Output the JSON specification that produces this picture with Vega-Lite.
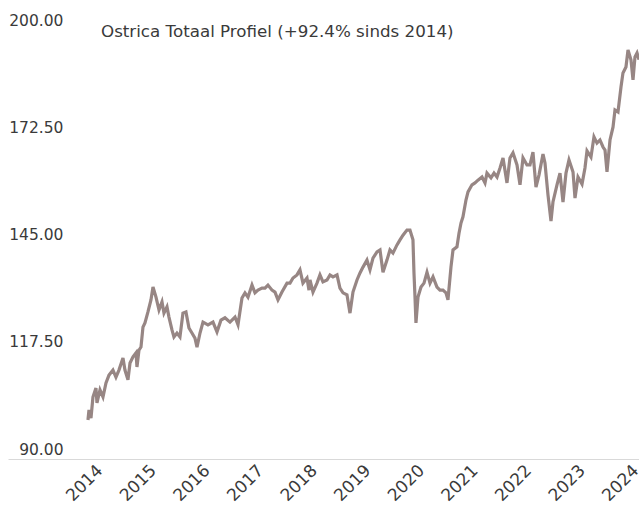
{
  "$schema": "https://vega.github.io/schema/vega-lite/v6.json",
  "autosize": {"type": "none"},
  "padding": {"left": 8, "top": 30, "right": 0, "bottom": 53},
  "width": 631,
  "height": 429,
  "background": "white",
  "title": {
    "text": "Ostrica Totaal Profiel (+92.4% sinds 2014)",
    "anchor": "start",
    "frame": "group",
    "orient": "top",
    "offset": 0,
    "dx": 93,
    "dy": 41,
    "baseline": "alphabetic",
    "font": "DejaVu Sans",
    "fontSize": 16.7,
    "fontWeight": "normal",
    "color": "#3a3a3a"
  },
  "config": {"view": {"stroke": null}},
  "data": {
    "values": [
      {"year": 2014.000, "value": 100.0},
      {"year": 2014.019, "value": 102.6},
      {"year": 2014.056, "value": 100.5},
      {"year": 2014.093, "value": 105.9},
      {"year": 2014.149, "value": 108.2},
      {"year": 2014.168, "value": 104.4},
      {"year": 2014.224, "value": 107.7},
      {"year": 2014.280, "value": 105.9},
      {"year": 2014.336, "value": 109.5},
      {"year": 2014.392, "value": 111.5},
      {"year": 2014.466, "value": 112.8},
      {"year": 2014.522, "value": 111.0},
      {"year": 2014.578, "value": 112.8},
      {"year": 2014.653, "value": 115.9},
      {"year": 2014.690, "value": 112.8},
      {"year": 2014.746, "value": 110.3},
      {"year": 2014.784, "value": 114.6},
      {"year": 2014.840, "value": 116.2},
      {"year": 2014.896, "value": 117.2},
      {"year": 2014.914, "value": 113.6},
      {"year": 2014.951, "value": 117.9},
      {"year": 2014.989, "value": 118.7},
      {"year": 2015.026, "value": 123.8},
      {"year": 2015.063, "value": 124.9},
      {"year": 2015.119, "value": 127.7},
      {"year": 2015.175, "value": 130.8},
      {"year": 2015.213, "value": 134.1},
      {"year": 2015.269, "value": 131.5},
      {"year": 2015.325, "value": 128.2},
      {"year": 2015.381, "value": 130.3},
      {"year": 2015.418, "value": 127.4},
      {"year": 2015.474, "value": 129.0},
      {"year": 2015.511, "value": 126.4},
      {"year": 2015.567, "value": 123.1},
      {"year": 2015.604, "value": 121.3},
      {"year": 2015.660, "value": 122.3},
      {"year": 2015.716, "value": 121.3},
      {"year": 2015.772, "value": 127.4},
      {"year": 2015.828, "value": 127.7},
      {"year": 2015.884, "value": 123.6},
      {"year": 2015.940, "value": 122.3},
      {"year": 2015.996, "value": 121.0},
      {"year": 2016.034, "value": 118.7},
      {"year": 2016.090, "value": 122.3},
      {"year": 2016.146, "value": 125.1},
      {"year": 2016.239, "value": 124.4},
      {"year": 2016.332, "value": 125.1},
      {"year": 2016.407, "value": 122.6},
      {"year": 2016.481, "value": 125.6},
      {"year": 2016.556, "value": 126.2},
      {"year": 2016.649, "value": 125.1},
      {"year": 2016.743, "value": 126.4},
      {"year": 2016.799, "value": 124.4},
      {"year": 2016.873, "value": 131.3},
      {"year": 2016.929, "value": 132.6},
      {"year": 2016.985, "value": 131.5},
      {"year": 2017.060, "value": 134.6},
      {"year": 2017.116, "value": 132.6},
      {"year": 2017.172, "value": 133.3},
      {"year": 2017.246, "value": 133.8},
      {"year": 2017.302, "value": 133.8},
      {"year": 2017.358, "value": 134.6},
      {"year": 2017.433, "value": 133.3},
      {"year": 2017.489, "value": 132.8},
      {"year": 2017.545, "value": 130.8},
      {"year": 2017.619, "value": 132.8},
      {"year": 2017.713, "value": 135.1},
      {"year": 2017.769, "value": 135.1},
      {"year": 2017.825, "value": 136.4},
      {"year": 2017.899, "value": 137.2},
      {"year": 2017.955, "value": 138.5},
      {"year": 2018.011, "value": 135.1},
      {"year": 2018.086, "value": 136.4},
      {"year": 2018.123, "value": 133.3},
      {"year": 2018.142, "value": 135.9},
      {"year": 2018.198, "value": 132.8},
      {"year": 2018.272, "value": 135.1},
      {"year": 2018.328, "value": 137.2},
      {"year": 2018.384, "value": 135.4},
      {"year": 2018.459, "value": 135.9},
      {"year": 2018.515, "value": 137.2},
      {"year": 2018.571, "value": 136.7},
      {"year": 2018.646, "value": 137.2},
      {"year": 2018.701, "value": 133.8},
      {"year": 2018.758, "value": 132.6},
      {"year": 2018.832, "value": 132.1},
      {"year": 2018.888, "value": 127.4},
      {"year": 2018.944, "value": 132.8},
      {"year": 2019.019, "value": 135.9},
      {"year": 2019.075, "value": 137.7},
      {"year": 2019.131, "value": 139.2},
      {"year": 2019.205, "value": 141.0},
      {"year": 2019.261, "value": 138.5},
      {"year": 2019.317, "value": 141.5},
      {"year": 2019.392, "value": 143.1},
      {"year": 2019.448, "value": 143.6},
      {"year": 2019.504, "value": 137.9},
      {"year": 2019.578, "value": 141.0},
      {"year": 2019.634, "value": 143.6},
      {"year": 2019.690, "value": 142.8},
      {"year": 2019.765, "value": 144.9},
      {"year": 2019.821, "value": 146.2},
      {"year": 2019.877, "value": 147.4},
      {"year": 2019.951, "value": 148.7},
      {"year": 2020.007, "value": 148.7},
      {"year": 2020.063, "value": 146.2},
      {"year": 2020.082, "value": 137.7},
      {"year": 2020.101, "value": 131.5},
      {"year": 2020.119, "value": 124.9},
      {"year": 2020.157, "value": 131.5},
      {"year": 2020.213, "value": 134.1},
      {"year": 2020.269, "value": 135.1},
      {"year": 2020.325, "value": 137.9},
      {"year": 2020.381, "value": 135.1},
      {"year": 2020.437, "value": 136.7},
      {"year": 2020.511, "value": 134.1},
      {"year": 2020.567, "value": 133.3},
      {"year": 2020.623, "value": 133.3},
      {"year": 2020.679, "value": 132.6},
      {"year": 2020.716, "value": 130.8},
      {"year": 2020.772, "value": 139.2},
      {"year": 2020.810, "value": 143.6},
      {"year": 2020.884, "value": 144.4},
      {"year": 2020.922, "value": 147.9},
      {"year": 2020.959, "value": 150.5},
      {"year": 2020.996, "value": 152.1},
      {"year": 2021.052, "value": 156.4},
      {"year": 2021.090, "value": 158.5},
      {"year": 2021.164, "value": 160.3},
      {"year": 2021.220, "value": 160.8},
      {"year": 2021.276, "value": 161.5},
      {"year": 2021.351, "value": 162.3},
      {"year": 2021.407, "value": 160.8},
      {"year": 2021.444, "value": 163.3},
      {"year": 2021.519, "value": 162.1},
      {"year": 2021.575, "value": 163.3},
      {"year": 2021.631, "value": 162.3},
      {"year": 2021.687, "value": 164.6},
      {"year": 2021.743, "value": 167.2},
      {"year": 2021.817, "value": 160.8},
      {"year": 2021.873, "value": 167.2},
      {"year": 2021.929, "value": 168.5},
      {"year": 2022.004, "value": 165.4},
      {"year": 2022.060, "value": 160.3},
      {"year": 2022.116, "value": 167.2},
      {"year": 2022.190, "value": 165.4},
      {"year": 2022.246, "value": 165.4},
      {"year": 2022.302, "value": 168.7},
      {"year": 2022.358, "value": 159.7},
      {"year": 2022.414, "value": 162.8},
      {"year": 2022.489, "value": 168.2},
      {"year": 2022.526, "value": 165.9},
      {"year": 2022.582, "value": 157.7},
      {"year": 2022.638, "value": 151.0},
      {"year": 2022.675, "value": 155.9},
      {"year": 2022.750, "value": 160.3},
      {"year": 2022.806, "value": 163.3},
      {"year": 2022.862, "value": 155.9},
      {"year": 2022.918, "value": 163.3},
      {"year": 2022.974, "value": 166.7},
      {"year": 2023.049, "value": 163.6},
      {"year": 2023.086, "value": 156.9},
      {"year": 2023.142, "value": 162.3},
      {"year": 2023.217, "value": 160.5},
      {"year": 2023.272, "value": 164.6},
      {"year": 2023.310, "value": 169.0},
      {"year": 2023.384, "value": 167.4},
      {"year": 2023.440, "value": 172.6},
      {"year": 2023.496, "value": 171.0},
      {"year": 2023.552, "value": 171.8},
      {"year": 2023.608, "value": 170.0},
      {"year": 2023.646, "value": 169.2},
      {"year": 2023.683, "value": 163.6},
      {"year": 2023.739, "value": 171.8},
      {"year": 2023.795, "value": 175.1},
      {"year": 2023.832, "value": 179.5},
      {"year": 2023.888, "value": 179.0},
      {"year": 2023.944, "value": 185.4},
      {"year": 2023.981, "value": 189.0},
      {"year": 2024.037, "value": 190.5},
      {"year": 2024.075, "value": 194.9},
      {"year": 2024.131, "value": 192.3},
      {"year": 2024.168, "value": 187.2},
      {"year": 2024.205, "value": 193.1},
      {"year": 2024.243, "value": 194.1},
      {"year": 2024.280, "value": 192.4}
    ]
  },
  "mark": {"type": "line", "color": "#978684", "strokeWidth": 3.2, "strokeJoin": "miter", "clip": true},
  "encoding": {
    "x": {
      "field": "year",
      "type": "quantitative",
      "scale": {"domain": [2012.508, 2024.28], "nice": false, "zero": false},
      "axis": {
        "title": null,
        "values": [2014, 2015, 2016, 2017, 2018, 2019, 2020, 2021, 2022, 2023, 2024],
        "format": "d",
        "grid": false,
        "ticks": false,
        "domain": true,
        "domainColor": "#d9d9d9",
        "domainWidth": 1,
        "labelAngle": -45,
        "labelAlign": "right",
        "labelBaseline": "top",
        "labelPadding": 3,
        "labelOffset": 6,
        "labelFont": "DejaVu Sans",
        "labelFontSize": 17,
        "labelColor": "#3a3a3a",
        "labelOverlap": false,
        "labelBound": false,
        "labelFlush": false
      }
    },
    "y": {
      "field": "value",
      "type": "quantitative",
      "scale": {"domain": [90, 200], "nice": false, "zero": false},
      "axis": {
        "title": null,
        "values": [90, 117.5, 145, 172.5, 200],
        "format": ".2f",
        "grid": false,
        "ticks": false,
        "domain": false,
        "labelAlign": "right",
        "labelPadding": -55,
        "labelOffset": -10,
        "labelFont": "DejaVu Sans",
        "labelFontSize": 15.5,
        "labelColor": "#3a3a3a",
        "labelOverlap": false,
        "labelFlush": false,
        "labelBound": false
      }
    }
  }
}
